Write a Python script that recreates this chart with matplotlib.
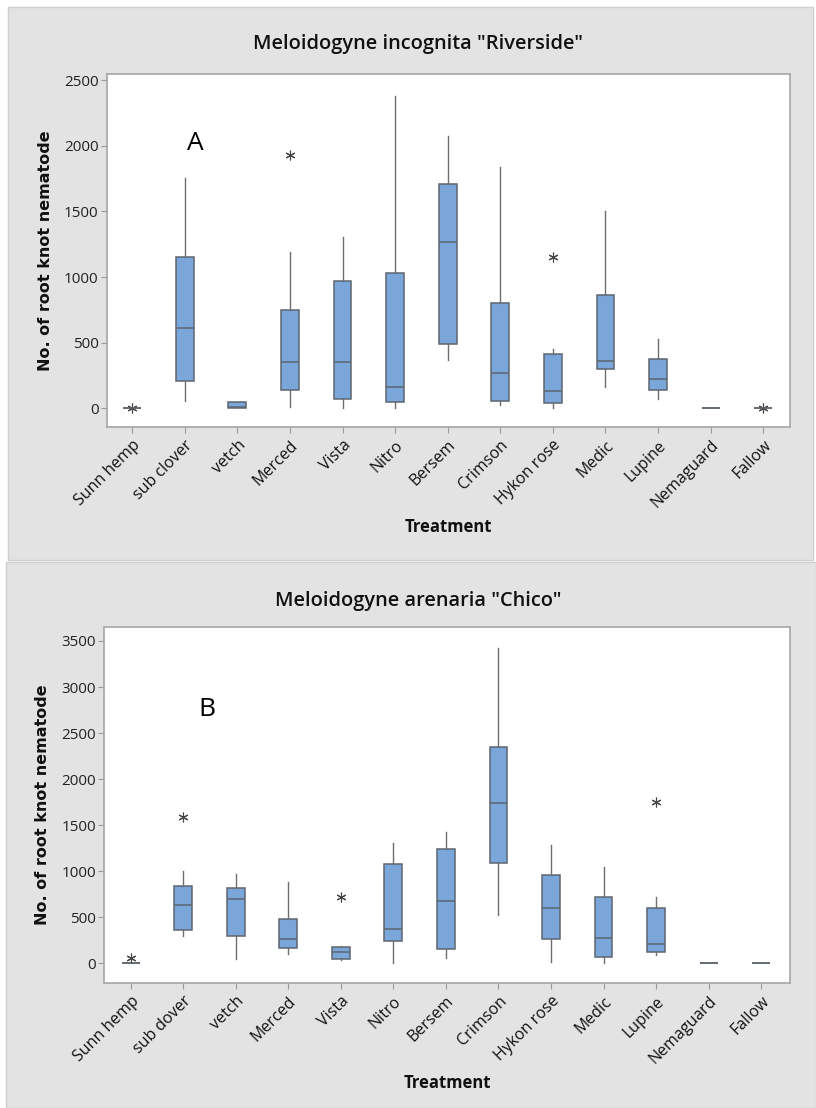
import matplotlib
matplotlib.use("Agg")
import matplotlib.pyplot as plt
from matplotlib.patches import Rectangle

plt.rcParams['font.family'] = ['Open Sans', 'DejaVu Sans']

# ---------------- data ----------------
categories_A = ["Sunn hemp", "sub clover", "vetch", "Merced", "Vista", "Nitro", "Bersem",
                "Crimson", "Hykon rose", "Medic", "Lupine", "Nemaguard", "Fallow"]
whislo_A = [0, 58, 0, 12, 5, 5, 368, 23, 5, 165, 69, 0, 0]
q1_A     = [0, 210, 0, 142, 71, 46, 492, 53, 38, 299, 142, 0, 0]
med_A    = [0, 609, 10, 353, 353, 160, 1269, 266, 134, 363, 221, 0, 0]
q3_A     = [0, 1152, 46, 751, 970, 1033, 1708, 800, 414, 863, 378, 0, 0]
whishi_A = [0, 1754, 46, 1190, 1305, 2381, 2071, 1840, 452, 1505, 530, 0, 0]
fliers_A = [[5], [], [], [1931], [], [], [], [], [1155], [], [], [], [5]]

categories_B = ["Sunn hemp", "sub dover", "vetch", "Merced", "Vista", "Nitro", "Bersem",
                "Crimson", "Hykon rose", "Medic", "Lupine", "Nemaguard", "Fallow"]
whislo_B = [0, 296, 43, 104, 33, 7, 54, 521, 14, 7, 93, 0, 0]
q1_B     = [0, 358, 300, 170, 43, 246, 155, 1093, 261, 72, 123, 0, 0]
med_B    = [0, 637, 702, 261, 123, 372, 673, 1738, 604, 275, 210, 0, 0]
q3_B     = [0, 840, 814, 484, 174, 1075, 1241, 2352, 962, 723, 600, 0, 0]
whishi_B = [0, 1006, 966, 880, 188, 1310, 1423, 3428, 1281, 1042, 717, 0, 0]
fliers_B = [[61], [1585], [], [], [720], [], [], [], [], [], [1748], [], []]

yticks_A = [0, 500, 1000, 1500, 2000, 2500]
yticks_B = [0, 500, 1000, 1500, 2000, 2500, 3000, 3500]

titles = ['Meloidogyne incognita "Riverside"', 'Meloidogyne arenaria "Chico"']
panel_letters = ["A", "B"]

# ---------------- figure ----------------
W, H = 816, 1108
fig = plt.figure(figsize=(W / 100, H / 100), dpi=100)
fig.patch.set_facecolor("white")

def fx(px):
    return px / W

def fy(py):
    return 1 - py / H

# gray panels
for (x0, y0, x1, y1) in [(8, 7, 813, 560), (6, 562, 816, 1108)]:
    r = Rectangle((fx(x0), fy(y1)), fx(x1) - fx(x0), fy(y0) - fy(y1),
                  transform=fig.transFigure, facecolor="#E3E3E3",
                  edgecolor="#CFCFCF", linewidth=1.0, zorder=-10)
    fig.add_artist(r)

box_face = "#7BA6DA"
box_edge = "#5E6670"
whisk_col = "#6E6E6E"

def draw_panel(ax_rect, cats, lo, q1, med, q3, hi, fl, yticks, ylim, xlim, title, letter, letter_xy,
               title_y):
    ax = fig.add_axes(ax_rect)
    ax.set_zorder(5)
    stats = []
    for i in range(len(cats)):
        stats.append(dict(med=med[i], q1=q1[i], q3=q3[i], whislo=lo[i], whishi=hi[i], fliers=fl[i]))
    ax.bxp(stats, positions=list(range(len(cats))), widths=0.34, patch_artist=True,
           showcaps=False,
           boxprops=dict(facecolor=box_face, edgecolor=box_edge, linewidth=1.1),
           medianprops=dict(color=box_edge, linewidth=1.1),
           whiskerprops=dict(color=whisk_col, linewidth=1.0),
           flierprops=dict(marker=(6, 2, 0), markersize=7, markeredgecolor="#444444",
                           markerfacecolor="#444444", markeredgewidth=0.8, linestyle="none"))
    ax.set_xlim(*xlim)
    ax.set_ylim(*ylim)
    ax.set_yticks(yticks)
    ax.set_yticklabels([str(t) for t in yticks], fontsize=11, color="#222222")
    ax.set_xticks(list(range(len(cats))))
    ax.set_xticklabels(cats, rotation=45, ha="right", va="top", rotation_mode="anchor",
                       fontsize=11.5, color="#111111")
    ax.tick_params(axis="both", direction="out", length=4, width=0.8, color="#9A9A9A")
    ax.tick_params(axis="y", pad=2)
    for s in ax.spines.values():
        s.set_color("#A5A5A5")
        s.set_linewidth(1.2)
    ax.set_facecolor("white")
    ax.set_ylabel("No. of root knot nematode", family="DejaVu Sans", fontweight="bold",
                  fontsize=11.5, color="#111111", labelpad=8)
    ax.set_xlabel("Treatment", fontweight="bold", fontsize=12, color="#111111", labelpad=5)
    fig.text(fx(418), fy(title_y), title, ha="center", va="center", fontsize=14.4,
             fontweight="semibold", color="#111111", zorder=6)
    ax.text(letter_xy[0], letter_xy[1], letter, ha="center", va="center", fontsize=19,
            color="black")
    return ax

axA = draw_panel([fx(107), fy(427), fx(790) - fx(107), fy(74) - fy(427)],
                 categories_A, whislo_A, q1_A, med_A, q3_A, whishi_A, fliers_A,
                 yticks_A, (-142, 2546), (-0.48, 12.51), titles[0], panel_letters[0],
                 (1.2, 2018), 44)
axB = draw_panel([fx(104.5), fy(983), fx(790) - fx(104.5), fy(626.7) - fy(983)],
                 categories_B, whislo_B, q1_B, med_B, q3_B, whishi_B, fliers_B,
                 yticks_B, (-214, 3655), (-0.5, 12.55), titles[1], panel_letters[1],
                 (1.45, 2751), 601)

fig.savefig("out.png", dpi=100, facecolor="white")
